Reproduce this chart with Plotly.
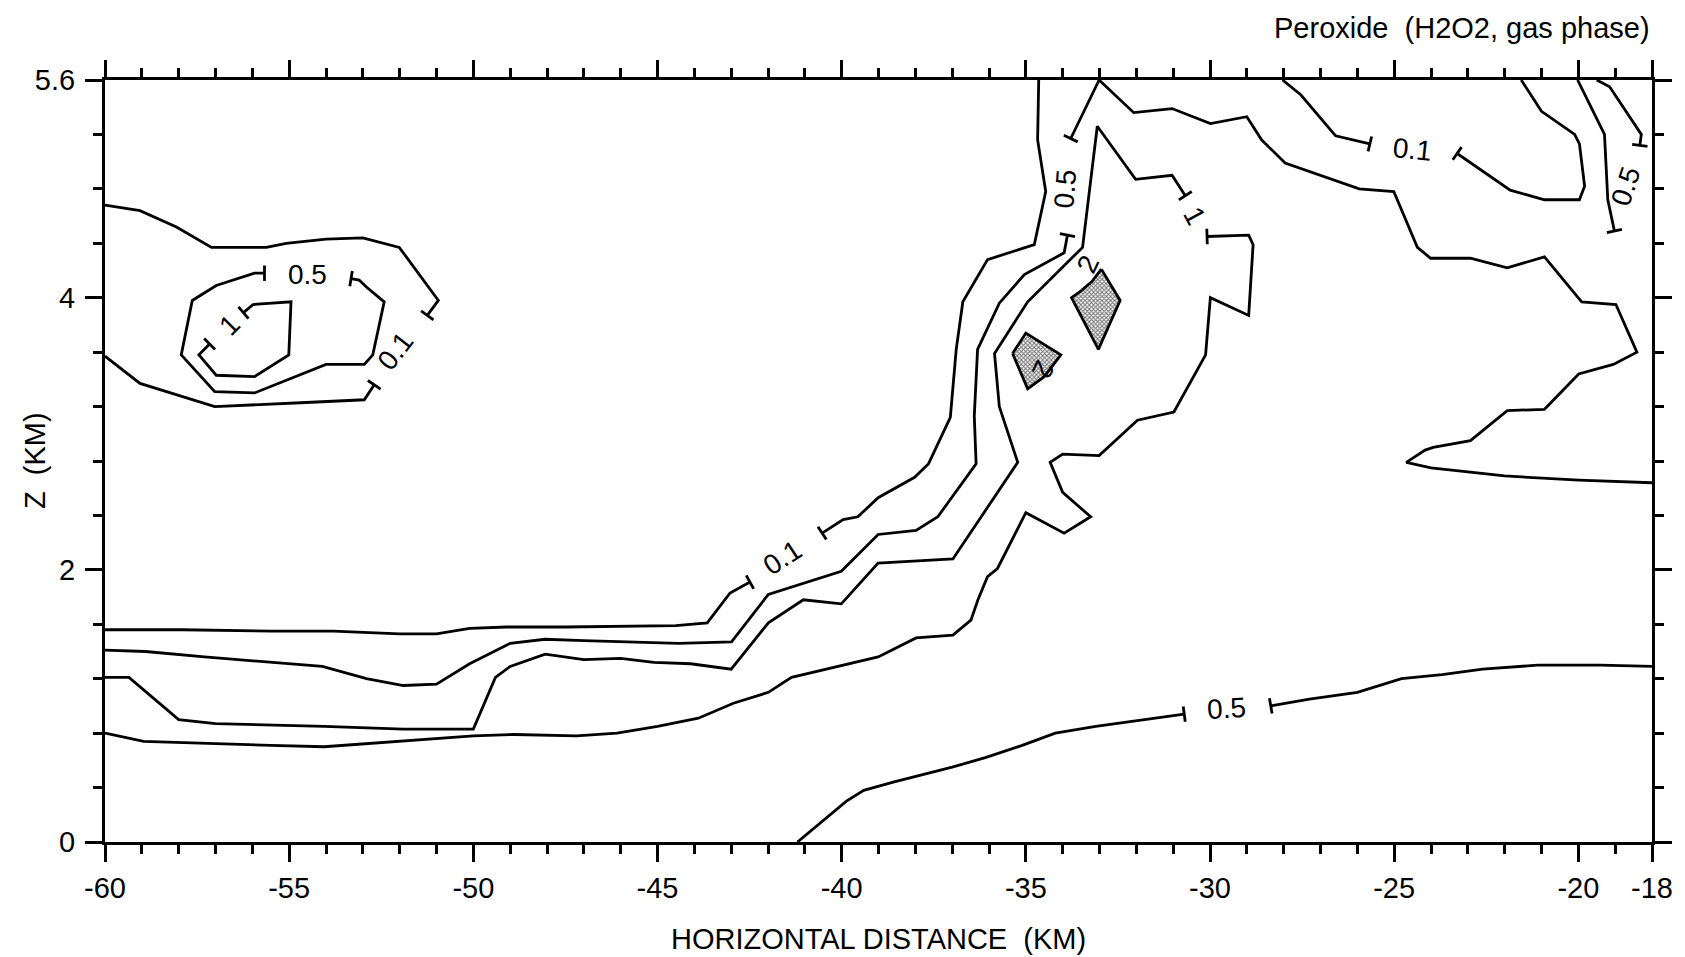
import math
import plotly.graph_objects as go

# ---------------- data ----------------
x_tick_vals = [-60, -55, -50, -45, -40, -35, -30, -25, -20, -18]
x_tick_text = ["-60", "-55", "-50", "-45", "-40", "-35", "-30", "-25", "-20", "-18"]
y_tick_vals = [0, 2, 4, 5.6]
y_tick_text = ["0", "2", "4", "5.6"]

# contour polylines: x (km), z (km); ends marked with a label-gap tick
c01_left_top_x = [-51.25, -50.95, -52.01, -53.0, -54.0, -55.08, -55.62, -57.11, -58.06, -59.05, -60.0]
c01_left_top_z = [3.87, 3.98, 4.37, 4.44, 4.43, 4.40, 4.37, 4.37, 4.52, 4.64, 4.68]
c01_left_bot_x = [-52.69, -52.96, -54.54, -57.02, -59.05, -60.0]
c01_left_bot_z = [3.36, 3.25, 3.23, 3.20, 3.37, 3.57]
c05_loop_x = [-55.67, -55.94, -56.98, -57.63, -57.93, -57.02, -55.94, -54.0, -52.96, -52.73, -52.42, -52.91, -53.1, -53.32]
c05_loop_z = [4.18, 4.18, 4.09, 3.98, 3.58, 3.31, 3.30, 3.51, 3.51, 3.58, 3.97, 4.08, 4.13, 4.14]
c1_loop_x = [-56.24, -55.98, -54.95, -55.01, -55.94, -56.98, -57.45, -57.16]
c1_loop_z = [3.89, 3.95, 3.97, 3.58, 3.42, 3.43, 3.58, 3.66]

c01_main_a_x = [-60.0, -57.9, -55.5, -53.8, -52.0, -51.0, -50.1, -49.1, -47.5, -44.5, -43.65, -43.03, -42.49]
c01_main_a_z = [1.56, 1.56, 1.55, 1.55, 1.53, 1.53, 1.57, 1.58, 1.58, 1.59, 1.61, 1.83, 1.91]
c01_main_b_x = [-40.53, -39.96, -39.56, -39.01, -38.02, -37.64, -37.05, -36.89, -36.71, -36.04, -34.77, -34.46, -34.68, -34.65]
c01_main_b_z = [2.27, 2.37, 2.39, 2.53, 2.68, 2.78, 3.12, 3.62, 3.97, 4.28, 4.39, 4.78, 5.16, 5.6]

c05_main_a_x = [-60.0, -58.9, -57.3, -54.1, -52.9, -51.9, -51.0, -50.1, -49.0, -48.05, -47.0, -45.3, -44.43,
                -42.99, -41.99, -40.01, -39.01, -37.98, -37.39, -36.35, -36.4, -36.31, -35.72, -35.04, -33.96, -33.87]
c05_main_a_z = [1.41, 1.40, 1.36, 1.29, 1.20, 1.15, 1.16, 1.31, 1.46, 1.49, 1.48, 1.47, 1.46,
                1.47, 1.82, 1.99, 2.26, 2.29, 2.39, 2.78, 3.13, 3.62, 3.96, 4.17, 4.33, 4.46]
c05_main_b_x = [-33.78, -33.01, -32.07, -31.03, -29.99, -29.0, -28.6, -27.96, -25.95, -25.01, -24.37, -24.01,
                -22.93, -21.93, -20.92, -19.91, -18.98, -18.41, -19.05, -19.99, -20.92, -21.93, -22.93, -23.94,
                -24.16, -24.67, -24.0, -22.0, -19.99, -18.0]
c05_main_b_z = [5.17, 5.6, 5.36, 5.39, 5.28, 5.33, 5.16, 4.99, 4.80, 4.78, 4.37, 4.29,
                4.29, 4.22, 4.30, 3.97, 3.95, 3.60, 3.51, 3.44, 3.18, 3.17, 2.95, 2.90,
                2.88, 2.79, 2.75, 2.69, 2.66, 2.64]

c1_main_a_x = [-60.0, -59.35, -58.0, -57.0, -54.05, -51.9, -50.0, -49.4, -49.0, -48.05, -47.0, -46.0, -45.1,
               -44.1, -43.0, -41.99, -41.04, -40.01, -39.01, -36.98, -35.22, -35.72, -35.85, -34.95, -33.46,
               -33.06, -32.02, -31.03, -30.67]
c1_main_a_z = [1.21, 1.21, 0.90, 0.87, 0.85, 0.83, 0.83, 1.21, 1.29, 1.38, 1.34, 1.35, 1.32,
               1.31, 1.27, 1.61, 1.78, 1.75, 2.05, 2.08, 2.79, 3.20, 3.59, 3.97, 4.37,
               5.26, 4.87, 4.90, 4.75]
c1_main_b_x = [-30.08, -28.95, -28.83, -28.95, -29.99, -30.12, -30.98, -31.97, -33.01, -34.0, -34.34, -34.0,
               -33.24, -33.96, -35.0, -35.77, -36.04, -36.3, -36.49, -36.67, -36.98, -37.98, -39.01, -41.36,
               -41.99, -42.94, -43.89, -45.0, -46.1, -47.2, -48.9, -50.0, -51.9, -54.05, -55.5, -58.0, -58.95, -60.0]
c1_main_b_z = [4.45, 4.46, 4.39, 3.87, 4.00, 3.58, 3.16, 3.10, 2.84, 2.85, 2.79, 2.57,
               2.39, 2.27, 2.42, 2.01, 1.95, 1.78, 1.63, 1.59, 1.52, 1.50, 1.36, 1.21,
               1.10, 1.02, 0.91, 0.85, 0.80, 0.78, 0.79, 0.78, 0.74, 0.70, 0.71, 0.73, 0.74, 0.80]

c05_low_a_x = [-41.2, -39.87, -39.4, -38.6, -37.0, -36.1, -35.1, -34.2, -33.1, -31.8, -30.7]
c05_low_a_z = [0.0, 0.30, 0.38, 0.44, 0.55, 0.62, 0.71, 0.80, 0.85, 0.90, 0.94]
c05_low_b_x = [-28.35, -27.3, -26.0, -24.8, -23.7, -22.6, -21.1, -19.4, -18.0]
c05_low_b_z = [1.00, 1.05, 1.10, 1.20, 1.23, 1.27, 1.30, 1.30, 1.29]

c01_right_a_x = [-28.03, -27.53, -26.59, -25.66]
c01_right_a_z = [5.6, 5.49, 5.19, 5.13]
c01_right_b_x = [-23.29, -21.85, -20.92, -19.97, -19.83, -19.97, -20.1, -21.0, -21.55]
c01_right_b_z = [5.06, 4.79, 4.72, 4.72, 4.82, 5.13, 5.20, 5.37, 5.6]

c05_right_a_x = [-19.02, -19.2, -19.29, -20.02]
c05_right_a_z = [4.49, 4.72, 5.20, 5.6]
c05_right_b_x = [-18.33, -18.29, -19.15, -19.5]
c05_right_b_z = [5.12, 5.20, 5.55, 5.6]

c2_big_x = [-32.95, -32.44, -33.03, -33.76, -33.5, -33.2, -32.95]
c2_big_z = [4.21, 3.98, 3.62, 4.00, 4.05, 4.12, 4.21]
c2_small_x = [-35.36, -35.0, -34.05, -34.5, -34.95, -35.36]
c2_small_z = [3.59, 3.74, 3.58, 3.42, 3.33, 3.59]

# contour labels: text, x, z, angle
label_text = ["0.1", "0.5", "1", "0.1", "0.5", "1", "0.5", "0.1", "0.5", "2", "2"]
label_x = [-52.1, -54.5, -56.6, -41.6, -33.92, -30.4, -29.55, -24.5, -18.72, -33.3, -34.55]
label_z = [3.61, 4.17, 3.80, 2.09, 4.80, 4.60, 0.98, 5.09, 4.82, 4.25, 3.47]
label_angle = [-52, 0, -45, -33, -86, 62, -4, 6, -72, -65, 115]

# ---------------- layout constants ----------------
W, H = 1685, 957
ML, MR, MT, MB = 105, 29, 80, 115
X_RANGE = [-60, -18]
Y_RANGE = [0, 5.6]
FONT = "Liberation Sans, Arial, Helvetica, sans-serif"
LW = 2.8
sx = (W - ML - MR) / (X_RANGE[1] - X_RANGE[0])
sy = (H - MT - MB) / (Y_RANGE[1] - Y_RANGE[0])

segments = [
    (c01_left_top_x, c01_left_top_z, [0]),
    (c01_left_bot_x, c01_left_bot_z, [0]),
    (c05_loop_x, c05_loop_z, [0, -1]),
    (c1_loop_x, c1_loop_z, [0, -1]),
    (c01_main_a_x, c01_main_a_z, [-1]),
    (c01_main_b_x, c01_main_b_z, [0]),
    (c05_main_a_x, c05_main_a_z, [-1]),
    (c05_main_b_x, c05_main_b_z, [0]),
    (c1_main_a_x, c1_main_a_z, [-1]),
    (c1_main_b_x, c1_main_b_z, [0]),
    (c05_low_a_x, c05_low_a_z, [-1]),
    (c05_low_b_x, c05_low_b_z, [0]),
    (c01_right_a_x, c01_right_a_z, [-1]),
    (c01_right_b_x, c01_right_b_z, [0]),
    (c05_right_a_x, c05_right_a_z, [0]),
    (c05_right_b_x, c05_right_b_z, [0]),
]

fig = go.Figure()

for xs, zs in [(c2_big_x, c2_big_z), (c2_small_x, c2_small_z)]:
    fig.add_trace(go.Scatter(
        x=xs, y=zs, mode="lines", fill="toself",
        fillcolor="white",
        fillpattern=dict(shape="x", size=3, solidity=0.6, fgcolor="black", bgcolor="white"),
        line=dict(color="black", width=LW), hoverinfo="skip", showlegend=False))

tick_x, tick_y, tick_ang = [], [], []
for xs, zs, ends in segments:
    fig.add_trace(go.Scatter(x=xs, y=zs, mode="lines",
                             line=dict(color="black", width=LW),
                             hoverinfo="skip", showlegend=False))
    for e in ends:
        i0 = 0 if e == 0 else len(xs) - 1
        i1 = 1 if e == 0 else len(xs) - 2
        dx = (xs[i1] - xs[i0]) * sx
        dy = -(zs[i1] - zs[i0]) * sy
        tick_x.append(xs[i0])
        tick_y.append(zs[i0])
        tick_ang.append(math.degrees(math.atan2(dy, dx)))

fig.add_trace(go.Scatter(
    x=tick_x, y=tick_y, mode="markers",
    marker=dict(symbol="line-ns", size=11, angle=tick_ang,
                line=dict(color="black", width=LW), color="black"),
    hoverinfo="skip", showlegend=False))

for t, x, z, a in zip(label_text, label_x, label_z, label_angle):
    fig.add_annotation(x=x, y=z, text=t, textangle=a, showarrow=False,
                       font=dict(family=FONT, size=28, color="black"),
                       xanchor="center", yanchor="middle")

# titles
fig.add_annotation(xref="paper", yref="paper", x=1, y=1, yshift=52,
                   text="Peroxide  (H2O2, gas phase)", showarrow=False,
                   xanchor="right", yanchor="middle",
                   font=dict(family=FONT, size=29, color="black"))
fig.add_annotation(xref="paper", yref="paper", x=0.5, y=0, yshift=-97,
                   text="HORIZONTAL DISTANCE  (KM)", showarrow=False,
                   xanchor="center", yanchor="middle",
                   font=dict(family=FONT, size=29, color="black"))
fig.add_annotation(xref="paper", yref="paper", x=0, y=0.5, xshift=-70,
                   text="Z  (KM)", showarrow=False, textangle=-90,
                   xanchor="center", yanchor="middle",
                   font=dict(family=FONT, size=29, color="black"))

axis_common = dict(showline=True, linecolor="black", linewidth=3, mirror="allticks",
                   ticks="outside", tickcolor="black", tickwidth=2.8, ticklen=17,
                   showgrid=False, zeroline=False,
                   tickfont=dict(family=FONT, size=29, color="black"))

fig.update_xaxes(range=X_RANGE, tickmode="array", tickvals=x_tick_vals, ticktext=x_tick_text,
                 ticklabelstandoff=1,
                 minor=dict(tickmode="linear", tick0=-60, dtick=1, ticks="outside",
                            ticklen=9, tickwidth=2.8, tickcolor="black", showgrid=False),
                 **axis_common)
fig.update_yaxes(range=Y_RANGE, tickmode="array", tickvals=y_tick_vals, ticktext=y_tick_text,
                 ticklabelstandoff=4,
                 minor=dict(tickmode="linear", tick0=0, dtick=0.4, ticks="outside",
                            ticklen=9, tickwidth=2.8, tickcolor="black", showgrid=False),
                 **axis_common)

fig.update_layout(width=W, height=H, margin=dict(l=ML, r=MR, t=MT, b=MB),
                  paper_bgcolor="white", plot_bgcolor="white", showlegend=False)

fig.write_html("out.html")
